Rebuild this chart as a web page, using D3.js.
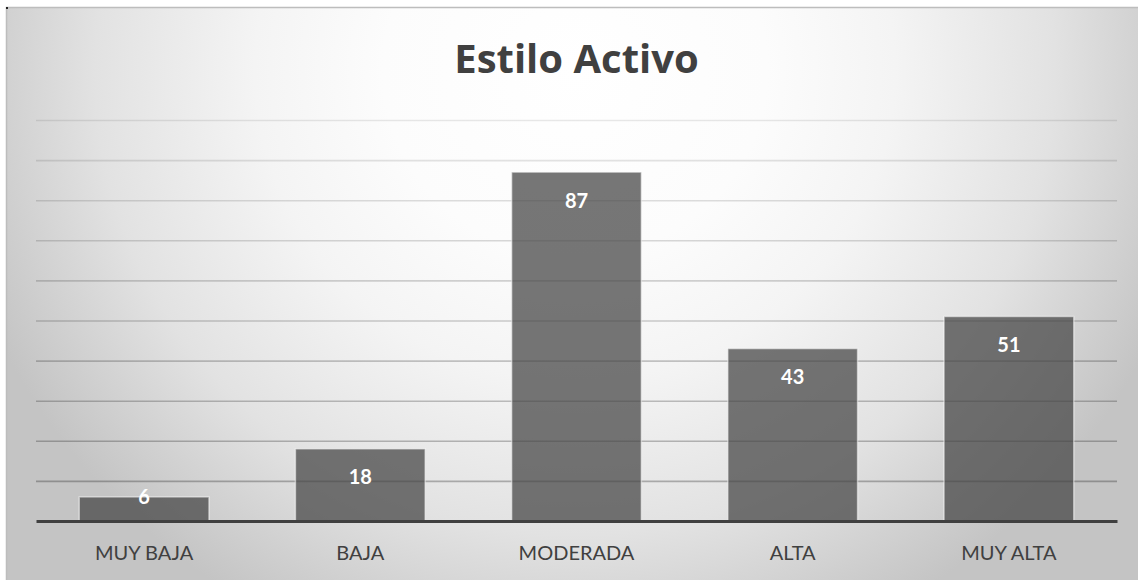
<!DOCTYPE html>
<html>
<head>
<meta charset="utf-8">
<script src="https://cdn.jsdelivr.net/npm/d3@7"></script>
<style>
  html, body { margin: 0; padding: 0; background: #ffffff; }
  svg { display: block; }
</style>
</head>
<body>
<svg id="chart" width="1138" height="580"></svg>
<script>
const title = "Estilo Activo";
const categories = ["MUY BAJA", "BAJA", "MODERADA", "ALTA", "MUY ALTA"];
const values = [6, 18, 87, 43, 51];
const yTicks = [0, 10, 20, 30, 40, 50, 60, 70, 80, 90, 100];

const W = 1138, H = 580;
const plot = { left: 36, right: 1117, top: 120, bottom: 521 };

const svg = d3.select("#chart");
const defs = svg.append("defs");

const grad = defs.append("radialGradient")
  .attr("id", "bg")
  .attr("gradientUnits", "userSpaceOnUse")
  .attr("cx", 0).attr("cy", 0).attr("r", 1)
  .attr("gradientTransform", "translate(575,70) scale(640,620)");
[[0, "#ffffff"], [0.3, "#fcfcfc"], [0.5, "#f4f4f4"], [0.75, "#e2e2e2"], [1, "#c4c4c4"]]
  .forEach(([o, c]) => grad.append("stop").attr("offset", o).attr("stop-color", c));

// chart area background + frame
svg.append("rect")
  .attr("x", 6.5).attr("y", 7.5)
  .attr("width", W + 10).attr("height", H + 10)
  .attr("fill", "url(#bg)")
  .attr("stroke", "#bdbdbd").attr("stroke-width", 1.5);

svg.append("rect").attr("x", 6).attr("y", 7).attr("width", 2).attr("height", 2).attr("fill", "#222");

const x = d3.scaleBand()
  .domain(categories)
  .range([plot.left, plot.right])
  .paddingInner(0.4)
  .paddingOuter(0.2);

const y = d3.scaleLinear()
  .domain([0, 100])
  .range([plot.bottom, plot.top]);

// gridlines
const gridAxis = d3.axisLeft(y)
  .tickValues(yTicks.slice(1))
  .tickSize(-(plot.right - plot.left))
  .tickFormat("");
const grid = svg.append("g")
  .attr("transform", `translate(${plot.left},0)`)
  .call(gridAxis);
grid.select(".domain").remove();
grid.selectAll(".tick line")
  .attr("stroke", d => `rgba(0,0,0,${0.09 + 0.2 * (1 - d / 100)})`)
  .attr("stroke-width", 1.6);

// bars
svg.append("g").selectAll("rect")
  .data(values)
  .join("rect")
  .attr("x", (d, i) => x(categories[i]))
  .attr("y", d => y(d))
  .attr("width", x.bandwidth())
  .attr("height", d => y(0) - y(d))
  .attr("fill", "rgba(70,70,70,0.74)")
  .attr("stroke", "rgba(255,255,255,0.5)")
  .attr("stroke-width", 1.5);

// data labels
svg.append("g").selectAll("text")
  .data(values)
  .join("text")
  .attr("x", (d, i) => x(categories[i]) + x.bandwidth() / 2)
  .attr("y", d => (y(0) - y(d) > 40 ? y(d) + 27.5 : y(d) - 1))
  .attr("text-anchor", "middle")
  .attr("dominant-baseline", "central")
  .attr("font-family", "Lato, 'Open Sans', sans-serif")
  .attr("font-weight", "bold")
  .attr("font-size", 20)
  .attr("fill", "#ffffff")
  .text(d => d);

// x axis
const xAxis = d3.axisBottom(x).tickSize(0).tickPadding(0);
const xg = svg.append("g")
  .attr("transform", `translate(0,${plot.bottom})`)
  .call(xAxis);
xg.select(".domain")
  .attr("stroke", "#404040")
  .attr("stroke-width", 3);
xg.selectAll(".tick text")
  .attr("y", 39)
  .attr("dy", 0)
  .attr("font-family", "Lato, 'Open Sans', sans-serif")
  .attr("font-size", 20)
  .attr("fill", "#404040");

// title
svg.append("text")
  .attr("x", (plot.left + plot.right) / 2)
  .attr("y", 73)
  .attr("text-anchor", "middle")
  .attr("font-family", "'Open Sans', Lato, sans-serif")
  .attr("font-weight", "bold")
  .attr("font-size", 40)
  .attr("fill", "#404040")
  .text(title);
</script>
</body>
</html>
